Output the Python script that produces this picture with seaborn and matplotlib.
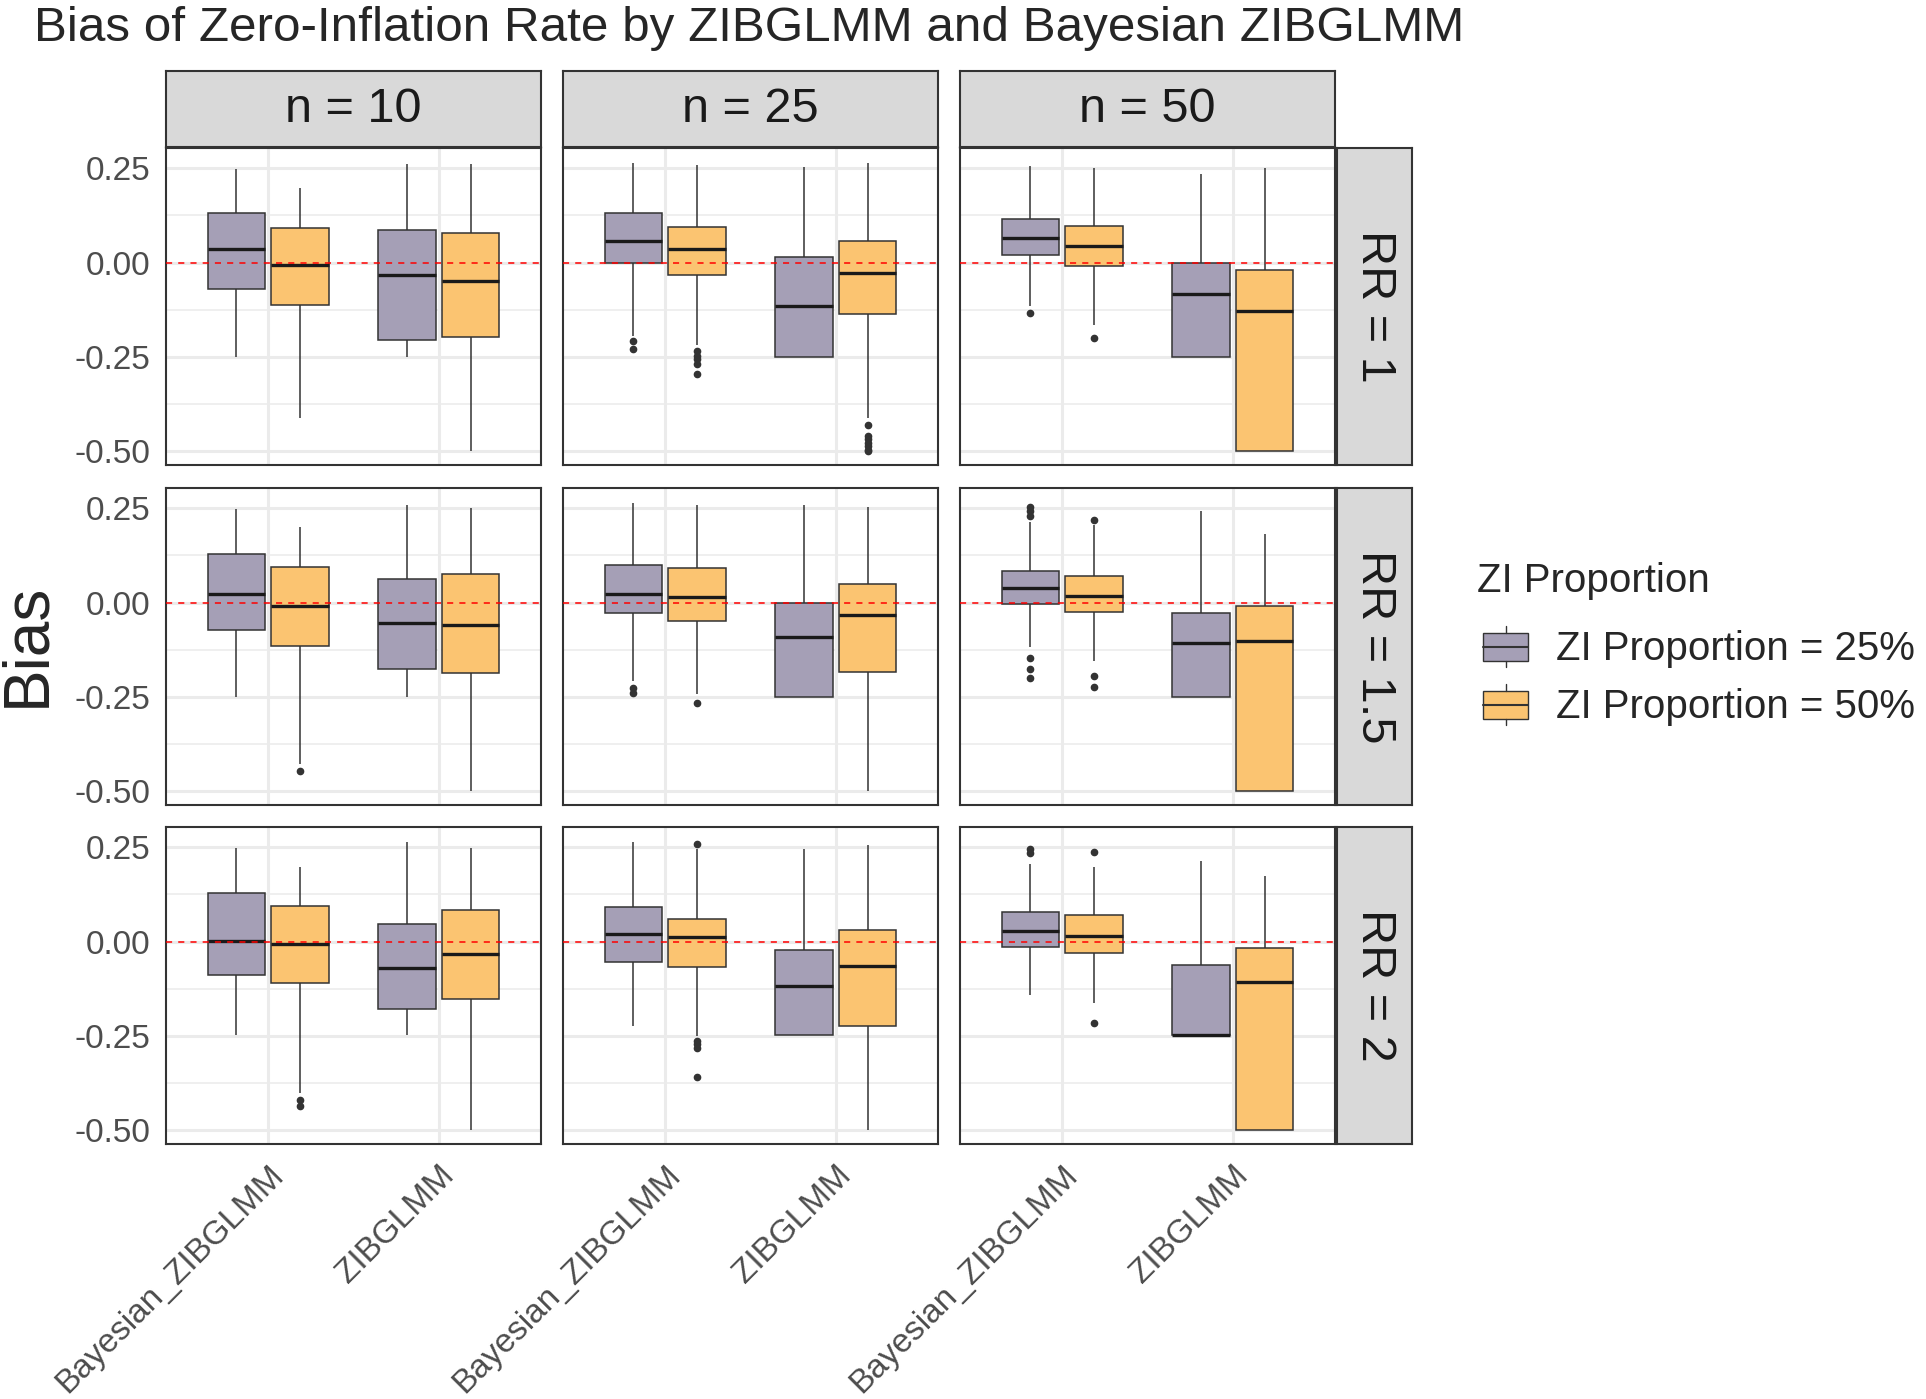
import matplotlib
matplotlib.use("Agg")
import matplotlib.pyplot as plt
import pandas as pd
import seaborn as sns
from matplotlib.legend_handler import HandlerBase
from matplotlib.patches import Rectangle
from matplotlib.lines import Line2D

sample_sizes = ["n = 10", "n = 25", "n = 50"]
rr_levels = ["RR = 1", "RR = 1.5", "RR = 2"]
methods = ["Bayesian_ZIBGLMM", "ZIBGLMM"]
zi_levels = ["ZI Proportion = 25%", "ZI Proportion = 50%"]

# box summaries
# layout: [RR level][sample size][Bayes 25%, Bayes 50%, ZIBGLMM 25%, ZIBGLMM 50%]
whisk_lo = [
    [[-0.250, -0.413, -0.250, -0.500], [-0.194, -0.218, -0.250, -0.412], [-0.114, -0.165, -0.250, -0.500]],
    [[-0.250, -0.427, -0.250, -0.500], [-0.208, -0.242, -0.250, -0.500], [-0.117, -0.155, -0.250, -0.500]],
    [[-0.249, -0.402, -0.249, -0.500], [-0.223, -0.251, -0.249, -0.500], [-0.141, -0.163, -0.249, -0.500]],
]
q1 = [
    [[-0.071, -0.112, -0.205, -0.198], [0.000, -0.033, -0.250, -0.136], [0.019, -0.009, -0.250, -0.500]],
    [[-0.074, -0.115, -0.177, -0.188], [-0.027, -0.048, -0.250, -0.185], [-0.003, -0.026, -0.250, -0.500]],
    [[-0.089, -0.109, -0.179, -0.153], [-0.054, -0.068, -0.249, -0.223], [-0.015, -0.031, -0.249, -0.500]],
]
median = [
    [[0.035, -0.006, -0.033, -0.050], [0.058, 0.037, -0.115, -0.028], [0.066, 0.043, -0.084, -0.128]],
    [[0.024, -0.009, -0.054, -0.059], [0.024, 0.015, -0.091, -0.033], [0.038, 0.018, -0.107, -0.103]],
    [[0.002, -0.006, -0.069, -0.033], [0.019, 0.011, -0.118, -0.066], [0.027, 0.015, -0.249, -0.107]],
]
q3 = [
    [[0.132, 0.093, 0.086, 0.079], [0.131, 0.095, 0.014, 0.056], [0.116, 0.098, 0.000, -0.019]],
    [[0.130, 0.094, 0.063, 0.076], [0.100, 0.092, 0.000, 0.050], [0.085, 0.070, -0.027, -0.010]],
    [[0.128, 0.095, 0.046, 0.084], [0.092, 0.061, -0.023, 0.030], [0.079, 0.070, -0.062, -0.016]],
]
whisk_hi = [
    [[0.247, 0.198, 0.261, 0.261], [0.265, 0.258, 0.254, 0.263], [0.256, 0.252, 0.236, 0.252]],
    [[0.248, 0.200, 0.259, 0.250], [0.265, 0.259, 0.259, 0.254], [0.213, 0.205, 0.244, 0.182]],
    [[0.248, 0.198, 0.264, 0.248], [0.264, 0.246, 0.246, 0.257], [0.207, 0.198, 0.214, 0.174]],
]
outliers = [
    [[[], [], [], []],
     [[-0.209, -0.229], [-0.235, -0.247, -0.257, -0.268, -0.295], [],
      [-0.432, -0.460, -0.469, -0.478, -0.487, -0.496, -0.500]],
     [[-0.135], [-0.200], [], []]],
    [[[], [-0.448], [], []],
     [[-0.227, -0.239], [-0.267], [], []],
     [[0.254, 0.244, 0.231, -0.146, -0.177, -0.200], [0.218, -0.195, -0.224], [], []]],
    [[[], [-0.421, -0.436], [], []],
     [[], [0.258, -0.264, -0.273, -0.282, -0.358], [], []],
     [[0.246, 0.236], [0.238, -0.217], [], []]],
]

# rebuild a long table whose quartiles/whiskers match the summaries
K = 50
rows = []
for r, rr in enumerate(rr_levels):
    for c, n in enumerate(sample_sizes):
        for b in range(4):
            vals = ([whisk_lo[r][c][b]] * K + [q1[r][c][b]] * K + [median[r][c][b]] * K
                    + [q3[r][c][b]] * K + [whisk_hi[r][c][b]] * K + outliers[r][c][b])
            for v in vals:
                rows.append((rr, n, methods[b // 2], zi_levels[b % 2], v))
df = pd.DataFrame(rows, columns=["RR", "n", "method", "zi", "bias"])

palette = {zi_levels[0]: "#A59FB6", zi_levels[1]: "#FBC471"}
edge = "#333333"

sns.set_style("white")
plt.rcParams["font.family"] = ["Liberation Sans", "DejaVu Sans"]

W, H = 1926, 1399
fig = plt.figure(figsize=(W / 100, H / 100), dpi=100)


def px_axes(x0, y0, w, h):
    return fig.add_axes([x0 / W, 1 - (y0 + h) / H, w / W, h / H])


col_left = [166, 563, 960]
row_top = [148, 488, 827]
pw, ph = 375, 317

for r, rr in enumerate(rr_levels):
    for c, n in enumerate(sample_sizes):
        ax = px_axes(col_left[c], row_top[r], pw, ph)
        sub = df[(df["RR"] == rr) & (df["n"] == n)]
        sns.boxplot(data=sub, x="method", y="bias", hue="zi", order=methods,
                    hue_order=zi_levels, palette=palette, saturation=1,
                    width=0.75, gap=0.1, linecolor=edge, linewidth=1.1,
                    fliersize=4.5, showcaps=False,
                    medianprops=dict(color="#1A1A1A", linewidth=2.4),
                    flierprops=dict(marker="o", markerfacecolor=edge,
                                    markeredgecolor=edge),
                    legend=False, ax=ax)
        ax.axhline(0, color="red", lw=1.1, ls=(0, (4, 4)), zorder=10)
        ax.set_xlim(-0.6, 1.6)
        ax.set_ylim(-0.537, 0.304)
        ax.set_yticks([-0.5, -0.25, 0, 0.25])
        ax.set_yticks([-0.375, -0.125, 0.125], minor=True)
        ax.set_yticklabels(["-0.50", "-0.25", "0.00", "0.25"])
        ax.set_axisbelow(True)
        ax.grid(which="major", color="#EBEBEB", lw=2.2)
        ax.grid(which="minor", axis="y", color="#EBEBEB", lw=1.1)
        ax.tick_params(which="minor", length=0)
        ax.tick_params(which="major", color=edge, length=6, width=1.4,
                       labelsize=24, labelcolor="#4D4D4D", pad=5)
        ax.set_xlabel("")
        ax.set_ylabel("")
        for s in ax.spines.values():
            s.set_color(edge)
            s.set_linewidth(1.5)
        if c > 0:
            ax.tick_params(axis="y", left=False, labelleft=False)
        if r < 2:
            ax.tick_params(axis="x", bottom=False, labelbottom=False)
        else:
            ax.set_xticks([0, 1])
            ax.set_xticklabels(methods, rotation=45, ha="right", va="top",
                               rotation_mode="anchor")

# facet strips
for c, n in enumerate(sample_sizes):
    sax = px_axes(col_left[c], 71, pw, 76)
    sax.set_facecolor("#D9D9D9")
    sax.set_xticks([])
    sax.set_yticks([])
    for s in sax.spines.values():
        s.set_color(edge)
        s.set_linewidth(1.5)
    sax.text(0.5, 0.5, n, ha="center", va="center", fontsize=35,
             color="#1A1A1A", transform=sax.transAxes)

for r, rr in enumerate(rr_levels):
    sax = px_axes(1337, row_top[r], 75, ph)
    sax.set_facecolor("#D9D9D9")
    sax.set_xticks([])
    sax.set_yticks([])
    for s in sax.spines.values():
        s.set_color(edge)
        s.set_linewidth(1.5)
    sax.text(0.5, 0.5, rr, ha="center", va="center", fontsize=35,
             rotation=-90, color="#1A1A1A", transform=sax.transAxes)

fig.text(34 / W, 1 - 41 / H, "Bias of Zero-Inflation Rate by ZIBGLMM and Bayesian ZIBGLMM",
         fontsize=35.6, ha="left", va="baseline")
fig.text(27 / W, 1 - 645 / H, "Bias", fontsize=46, rotation=90,
         ha="center", va="center")


class BoxKey(HandlerBase):
    def create_artists(self, legend, orig_handle, xdescent, ydescent,
                       width, height, fontsize, trans):
        x0, y0 = -xdescent, -ydescent
        fc = orig_handle.get_facecolor()
        box = Rectangle((x0, y0 + 0.16 * height), width, 0.68 * height,
                        facecolor=fc, edgecolor=edge, lw=1.0, transform=trans)
        mid = Line2D([x0, x0 + width], [y0 + 0.5 * height] * 2,
                     color=edge, lw=1.5, transform=trans)
        top = Line2D([x0 + width / 2] * 2, [y0 + 0.84 * height, y0 + height],
                     color=edge, lw=1.0, transform=trans)
        bot = Line2D([x0 + width / 2] * 2, [y0, y0 + 0.16 * height],
                     color=edge, lw=1.0, transform=trans)
        return [box, mid, top, bot]


fig.text(1477 / W, 1 - 592 / H, "ZI Proportion", fontsize=29,
         ha="left", va="baseline")
handles = [Rectangle((0, 0), 1, 1, facecolor=palette[z]) for z in zi_levels]
leg = fig.legend(handles, zi_levels, loc="upper left",
                 bbox_to_anchor=(1483 / W, 1 - 626 / H), frameon=False,
                 fontsize=29, handlelength=1.12, handleheight=1.2,
                 handletextpad=0.7, labelspacing=0.39, borderpad=0,
                 borderaxespad=0, handler_map={Rectangle: BoxKey()})

fig.savefig("out.png", dpi=100)
